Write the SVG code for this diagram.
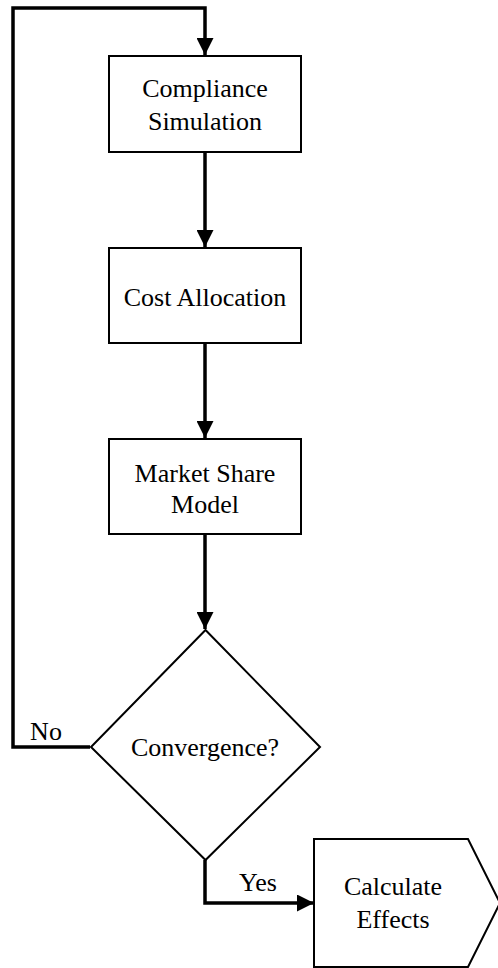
<svg xmlns="http://www.w3.org/2000/svg" width="498" height="968" viewBox="0 0 498 968">
<style>
.shape{fill:#fff;stroke:#000;stroke-width:2}
.conn{fill:none;stroke:#000;stroke-width:3.5}
.t{font-family:'Liberation Serif','Times New Roman',serif;font-size:26px;fill:#000;text-anchor:middle}
</style>
<defs>
<marker id="ah" viewBox="0 0 10 10" refX="10" refY="5" markerWidth="17" markerHeight="17" markerUnits="userSpaceOnUse" orient="auto">
<path d="M0,0 L10,5 L0,10 z" fill="#000"/>
</marker>
</defs>
<rect width="498" height="968" fill="#fff"/>
<g id="connectors">
<path class="conn" d="M205,152 V247" marker-end="url(#ah)"/>
<path class="conn" d="M205,343 V438" marker-end="url(#ah)"/>
<path class="conn" d="M205,534 V629" marker-end="url(#ah)"/>
<path class="conn" d="M90,747 H13 V8 H205 V55" marker-end="url(#ah)"/>
<path class="conn" d="M205,860 V903 H314" marker-end="url(#ah)"/>
<text class="t" x="46" y="740">No</text>
<text class="t" x="258" y="891">Yes</text>
</g>
<g id="compliance">
<rect class="shape" x="109" y="56" width="192" height="96"/>
<text class="t" x="205" y="97">Compliance</text>
<text class="t" x="205" y="130">Simulation</text>
</g>
<g id="cost">
<rect class="shape" x="109" y="248" width="192" height="95"/>
<text class="t" x="205" y="306">Cost Allocation</text>
</g>
<g id="market">
<rect class="shape" x="109" y="439" width="192" height="95"/>
<text class="t" x="205" y="482">Market Share</text>
<text class="t" x="205" y="513">Model</text>
</g>
<g id="convergence">
<polygon class="shape" points="205.5,630 320,747 205.5,860 91,747"/>
<text class="t" x="205" y="756">Convergence?</text>
</g>
<g id="calculate">
<polygon class="shape" points="314,839 468,839 500,903 468,967 314,967"/>
<text class="t" x="393" y="895">Calculate</text>
<text class="t" x="393" y="928">Effects</text>
</g>
</svg>
